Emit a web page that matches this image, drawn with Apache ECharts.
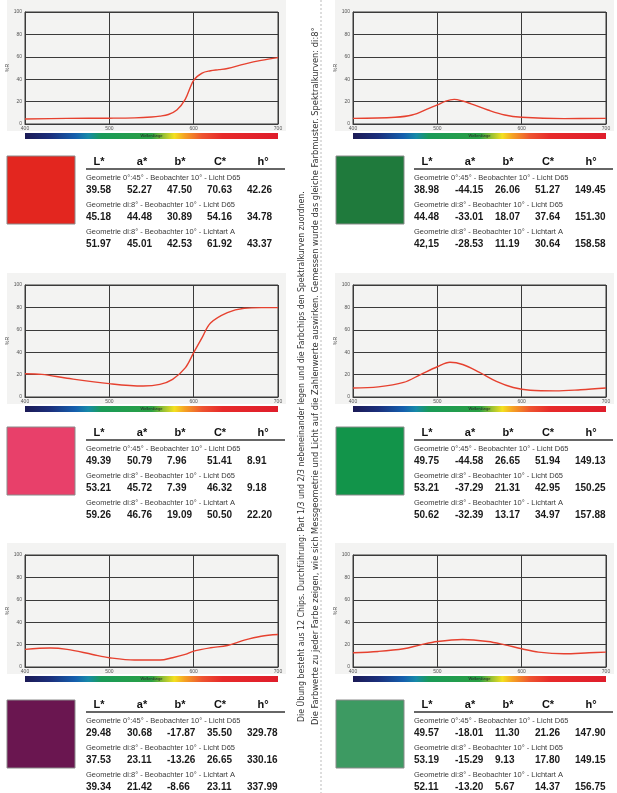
<!DOCTYPE html>
<html>
<head>
<meta charset="utf-8">
<script src="https://cdn.jsdelivr.net/npm/echarts@6/dist/echarts.min.js"></script>
<style>
html,body{margin:0;padding:0;background:#fff;}
#chart{width:617px;height:793px;}
</style>
</head>
<body>
<div id="chart"></div>
<script>
// ---------- data ----------
const xTicks = [400, 500, 600, 700];
const yTicks = [0, 20, 40, 60, 80, 100];

const wlRed = [400, 450, 500, 530, 550, 560, 570, 580, 590, 600, 610, 620, 630, 640, 660, 680, 700];
const rRed  = [4.5, 5, 5.2, 5.5, 6.2, 7, 8.5, 12.5, 22, 39, 45.5, 47.5, 48.5, 49.6, 53.5, 56.8, 59.3];

const wlDarkGreen = [400, 450, 470, 490, 500, 510, 520, 530, 540, 560, 580, 600, 650, 700];
const rDarkGreen  = [5, 6, 8, 14, 17, 20.5, 22, 20.5, 18, 12.5, 8, 6, 4.8, 5];

const wlPink = [400, 420, 450, 500, 540, 560, 575, 590, 600, 610, 620, 640, 660, 680, 700];
const rPink  = [20.8, 20.2, 16.7, 11.9, 9.8, 11.3, 15.8, 26, 39.6, 53, 66, 75.3, 79.2, 79.8, 79.8];

const wlGreen = [400, 430, 460, 480, 500, 515, 530, 550, 570, 590, 610, 640, 670, 700];
const rGreen  = [8, 9, 13, 20, 27, 31, 29, 22, 14, 8.5, 6, 5.5, 6.5, 8];

const wlPurple = [400, 430, 450, 480, 500, 530, 560, 575, 590, 600, 620, 640, 660, 680, 700];
const rPurple  = [15.7, 17, 15.7, 11.2, 8.3, 6.2, 6.2, 8.3, 11.2, 14.2, 17.2, 19.2, 24, 27.5, 29];

const wlSeaGreen = [400, 430, 460, 480, 500, 530, 560, 580, 600, 620, 650, 680, 700];
const rSeaGreen  = [12.7, 13.9, 16.3, 19.8, 22.8, 24.6, 22.8, 19.8, 16.3, 13.3, 11.8, 12.7, 13.3];

const tableHeaders = ['L*', 'a*', 'b*', 'C*', 'h°'];
const conditions = [
  'Geometrie 0°:45° - Beobachter 10° - Licht D65',
  'Geometrie di:8° - Beobachter 10° - Licht D65',
  'Geometrie di:8° - Beobachter 10° - Lichtart A'
];
const valsRed = [
  ['39.58', '52.27', '47.50', '70.63', '42.26'],
  ['45.18', '44.48', '30.89', '54.16', '34.78'],
  ['51.97', '45.01', '42.53', '61.92', '43.37']
];
const valsDarkGreen = [
  ['38.98', '-44.15', '26.06', '51.27', '149.45'],
  ['44.48', '-33.01', '18.07', '37.64', '151.30'],
  ['42,15', '-28.53', '11.19', '30.64', '158.58']
];
const valsPink = [
  ['49.39', '50.79', '7.96', '51.41', '8.91'],
  ['53.21', '45.72', '7.39', '46.32', '9.18'],
  ['59.26', '46.76', '19.09', '50.50', '22.20']
];
const valsGreen = [
  ['49.75', '-44.58', '26.65', '51.94', '149.13'],
  ['53.21', '-37.29', '21.31', '42.95', '150.25'],
  ['50.62', '-32.39', '13.17', '34.97', '157.88']
];
const valsPurple = [
  ['29.48', '30.68', '-17.87', '35.50', '329.78'],
  ['37.53', '23.11', '-13.26', '26.65', '330.16'],
  ['39.34', '21.42', '-8.66', '23.11', '337.99']
];
const valsSeaGreen = [
  ['49.57', '-18.01', '11.30', '21.26', '147.90'],
  ['53.19', '-15.29', '9.13', '17.80', '149.15'],
  ['52.11', '-13.20', '5.67', '14.37', '156.75']
];
const chipColors = ['#e3261f', '#1f7a3c', '#e8406a', '#12944a', '#6a1650', '#3d9a62'];
const axisLabelText = '%R';
const barLabel = 'Wellenlänge';
const sideText1 = 'Die Übung besteht aus 12 Chips. Durchführung: Part 1/3 und 2/3 nebeneinander legen und die Farbchips den Spektralkurven zuordnen.';
const sideText2 = 'Die Farbwerte zu jeder Farbe zeigen, wie sich Messgeometrie und Licht auf die Zahlenwerte auswirken. Gemessen wurde das gleiche Farbmuster. Spektralkurven: di:8°';

// ---------- layout ----------
const curves = [
  [wlRed, rRed], [wlDarkGreen, rDarkGreen],
  [wlPink, rPink], [wlGreen, rGreen],
  [wlPurple, rPurple], [wlSeaGreen, rSeaGreen]
];
const tables = [valsRed, valsDarkGreen, valsPink, valsGreen, valsPurple, valsSeaGreen];
const colLeft = [25, 353];
const rowTop = [12, 285, 555];
const plotW = 253, plotH = 112;
const tableBase = [162, 433, 705];
const swatchTop = [156, 427, 700];
const colShift = [0, 328];

const grids = [], xAxes = [], yAxes = [], series = [], graphics = [];
const gridColor = '#3a3a3a';

for (let i = 0; i < 6; i++) {
  const c = i % 2, r = Math.floor(i / 2);
  const L = colLeft[c], T = rowTop[r];
  grids.push({left: L, top: T, width: plotW, height: plotH, show: true,
    borderColor: gridColor, borderWidth: 1, backgroundColor: 'transparent'});
  xAxes.push({type: 'value', gridIndex: i, min: xTicks[0], max: xTicks[xTicks.length - 1], interval: 100,
    axisLine: {show: true, lineStyle: {color: gridColor, width: 1}},
    axisTick: {show: false},
    splitLine: {show: true, lineStyle: {color: gridColor, width: 1}},
    axisLabel: {fontSize: 5, color: '#555', margin: 2, fontFamily: 'Liberation Sans'}});
  yAxes.push({type: 'value', gridIndex: i, min: yTicks[0], max: yTicks[yTicks.length - 1], interval: 20,
    name: axisLabelText, nameLocation: 'middle', nameGap: 11, nameRotate: 90,
    nameTextStyle: {fontSize: 5, color: '#444', fontFamily: 'Liberation Sans'},
    axisLine: {show: true, lineStyle: {color: gridColor, width: 1}},
    axisTick: {show: false},
    splitLine: {show: true, lineStyle: {color: gridColor, width: 1}},
    axisLabel: {fontSize: 5, color: '#555', margin: 3, fontFamily: 'Liberation Sans'}});
  const [wl, rv] = curves[i];
  series.push({type: 'line', xAxisIndex: i, yAxisIndex: i, smooth: 0.35,
    showSymbol: false, silent: true,
    lineStyle: {color: '#e6412f', width: 1.4},
    data: wl.map((w, k) => [w, rv[k]])});

  // panel background
  graphics.push({type: 'rect', z: -10, shape: {x: L - 18, y: T - 12, width: plotW + 26, height: plotH + 19},
    style: {fill: '#f3f3f2'}});
  // spectrum bar
  const barY = T + plotH + 9;
  graphics.push({type: 'rect', shape: {x: L, y: barY, width: plotW, height: 6},
    style: {fill: new echarts.graphic.LinearGradient(0, 0, 1, 0, [
      {offset: 0, color: '#1b1a55'}, {offset: 0.1, color: '#1b2f7c'},
      {offset: 0.2, color: '#1560ae'}, {offset: 0.25, color: '#168aa8'},
      {offset: 0.3, color: '#199a58'}, {offset: 0.5, color: '#2ba044'},
      {offset: 0.55, color: '#9cc233'}, {offset: 0.59, color: '#f3e11f'},
      {offset: 0.63, color: '#f5a323'}, {offset: 0.7, color: '#ee5430'},
      {offset: 0.78, color: '#e72a2a'}, {offset: 1, color: '#df1d2b'}])}});
  graphics.push({type: 'text', x: L + plotW * 0.5, y: barY + 3,
    style: {text: barLabel, fontSize: 4, fill: '#222', textAlign: 'center', textVerticalAlign: 'middle',
      fontFamily: 'Liberation Sans'}});

  // swatch
  const sx = 7 + (c ? 329 : 0);
  graphics.push({type: 'rect', shape: {x: sx, y: swatchTop[r], width: 68, height: 68},
    style: {fill: chipColors[i], stroke: '#8a8a8a', lineWidth: 1}});

  // table
  const sh = colShift[c];
  const B = tableBase[r];
  const hx = [99, 142, 180, 220, 263];
  const vx = [86, 127, 167, 207, 247];
  tableHeaders.forEach((h, k) => {
    graphics.push({type: 'text', x: hx[k] + sh, y: B,
      style: {text: h, fontSize: 11, fontWeight: 'bold', fill: '#111', textAlign: 'center',
        textVerticalAlign: 'middle', fontFamily: 'Liberation Sans'}});
  });
  graphics.push({type: 'line', shape: {x1: 86 + sh, y1: B + 7, x2: 285 + sh, y2: B + 7},
    style: {stroke: '#333', lineWidth: 1.5}});
  const vals = tables[i];
  conditions.forEach((cond, j) => {
    const ly = B + 16 + j * 27;
    graphics.push({type: 'text', x: 86 + sh, y: ly,
      style: {text: cond, fontSize: 7.5, fill: '#3a3a3a', textAlign: 'left', textVerticalAlign: 'middle',
        fontFamily: 'Liberation Sans'}});
    vals[j].forEach((v, k) => {
      graphics.push({type: 'text', x: vx[k] + sh, y: ly + 12,
        style: {text: v, fontSize: 10, fontWeight: 'bold', fill: '#1a1a1a', textAlign: 'left',
          textVerticalAlign: 'middle', fontFamily: 'Liberation Sans'}});
    });
  });
}

// dotted separator
graphics.push({type: 'line', shape: {x1: 321, y1: 0, x2: 321, y2: 793},
  style: {stroke: '#bbb', lineWidth: 1, lineDash: [2, 2]}});

// side texts (rotated)
graphics.push({type: 'text', x: 302, y: 722, rotation: Math.PI / 2,
  style: {text: sideText1, fontSize: 8.7, fill: '#333', textAlign: 'left', textVerticalAlign: 'middle',
    fontFamily: 'Liberation Sans Narrow, DejaVu Sans Condensed, sans-serif'}});
graphics.push({type: 'text', x: 316, y: 725, rotation: Math.PI / 2,
  style: {text: sideText2, fontSize: 9.25, fill: '#333', textAlign: 'left', textVerticalAlign: 'middle',
    fontFamily: 'Liberation Sans Narrow, DejaVu Sans Condensed, sans-serif'}});

const chart = echarts.init(document.getElementById('chart'), null, {renderer: 'canvas'});
chart.setOption({
  animation: false,
  backgroundColor: '#ffffff',
  grid: grids, xAxis: xAxes, yAxis: yAxes, series: series,
  graphic: {elements: graphics}
});
</script>
</body>
</html>
